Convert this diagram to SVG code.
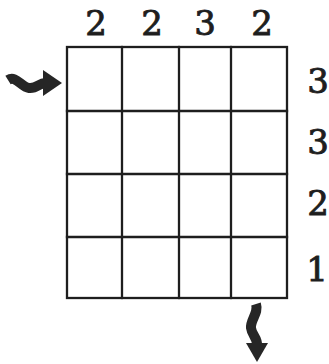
<svg xmlns="http://www.w3.org/2000/svg" width="329" height="364" viewBox="0 0 329 364">
<style>
.g{fill:none;stroke:#1e1e1e;stroke-width:2.3;stroke-linecap:square}
.n{font-family:"DejaVu Serif","Liberation Serif",serif;font-size:34px;fill:#1e1e1e;stroke:#1e1e1e;stroke-width:0.9;text-anchor:middle}
.a{fill:#262626}
.s{fill:none;stroke:#262626;stroke-width:10;stroke-linecap:butt}
</style>
<rect width="329" height="364" fill="#fff"/>
<g id="grid">
<rect class="g" x="67" y="47" width="220" height="251"/>
<line class="g" x1="122" y1="47" x2="122" y2="298"/>
<line class="g" x1="179" y1="47" x2="179" y2="298"/>
<line class="g" x1="231" y1="47" x2="231" y2="298"/>
<line class="g" x1="67" y1="111" x2="287" y2="111"/>
<line class="g" x1="67" y1="174" x2="287" y2="174"/>
<line class="g" x1="67" y1="237" x2="287" y2="237"/>
</g>
<g id="col-clues">
<text class="n" x="96" y="35">2</text>
<text class="n" x="152" y="35">2</text>
<text class="n" x="205" y="35">3</text>
<text class="n" x="262" y="35">2</text>
</g>
<g id="row-clues">
<text class="n" x="318" y="93">3</text>
<text class="n" x="318" y="154">3</text>
<text class="n" x="318" y="215">2</text>
<text class="n" x="317" y="281">1</text>
</g>
<g id="connectors">
<g id="entry-arrow">
<path class="s" d="M8,80 C16,75 21,87 29,88 C37,89 40,82 46,83"/>
<polygon class="a" points="43,70 62,83 43,96"/>
</g>
<g id="exit-arrow">
<path class="s" d="M256,304 C259,313 250,320 251,328 C252,336 258,338 257,346"/>
<polygon class="a" points="246,343 268,343 257,362"/>
</g>
</g>
</svg>
